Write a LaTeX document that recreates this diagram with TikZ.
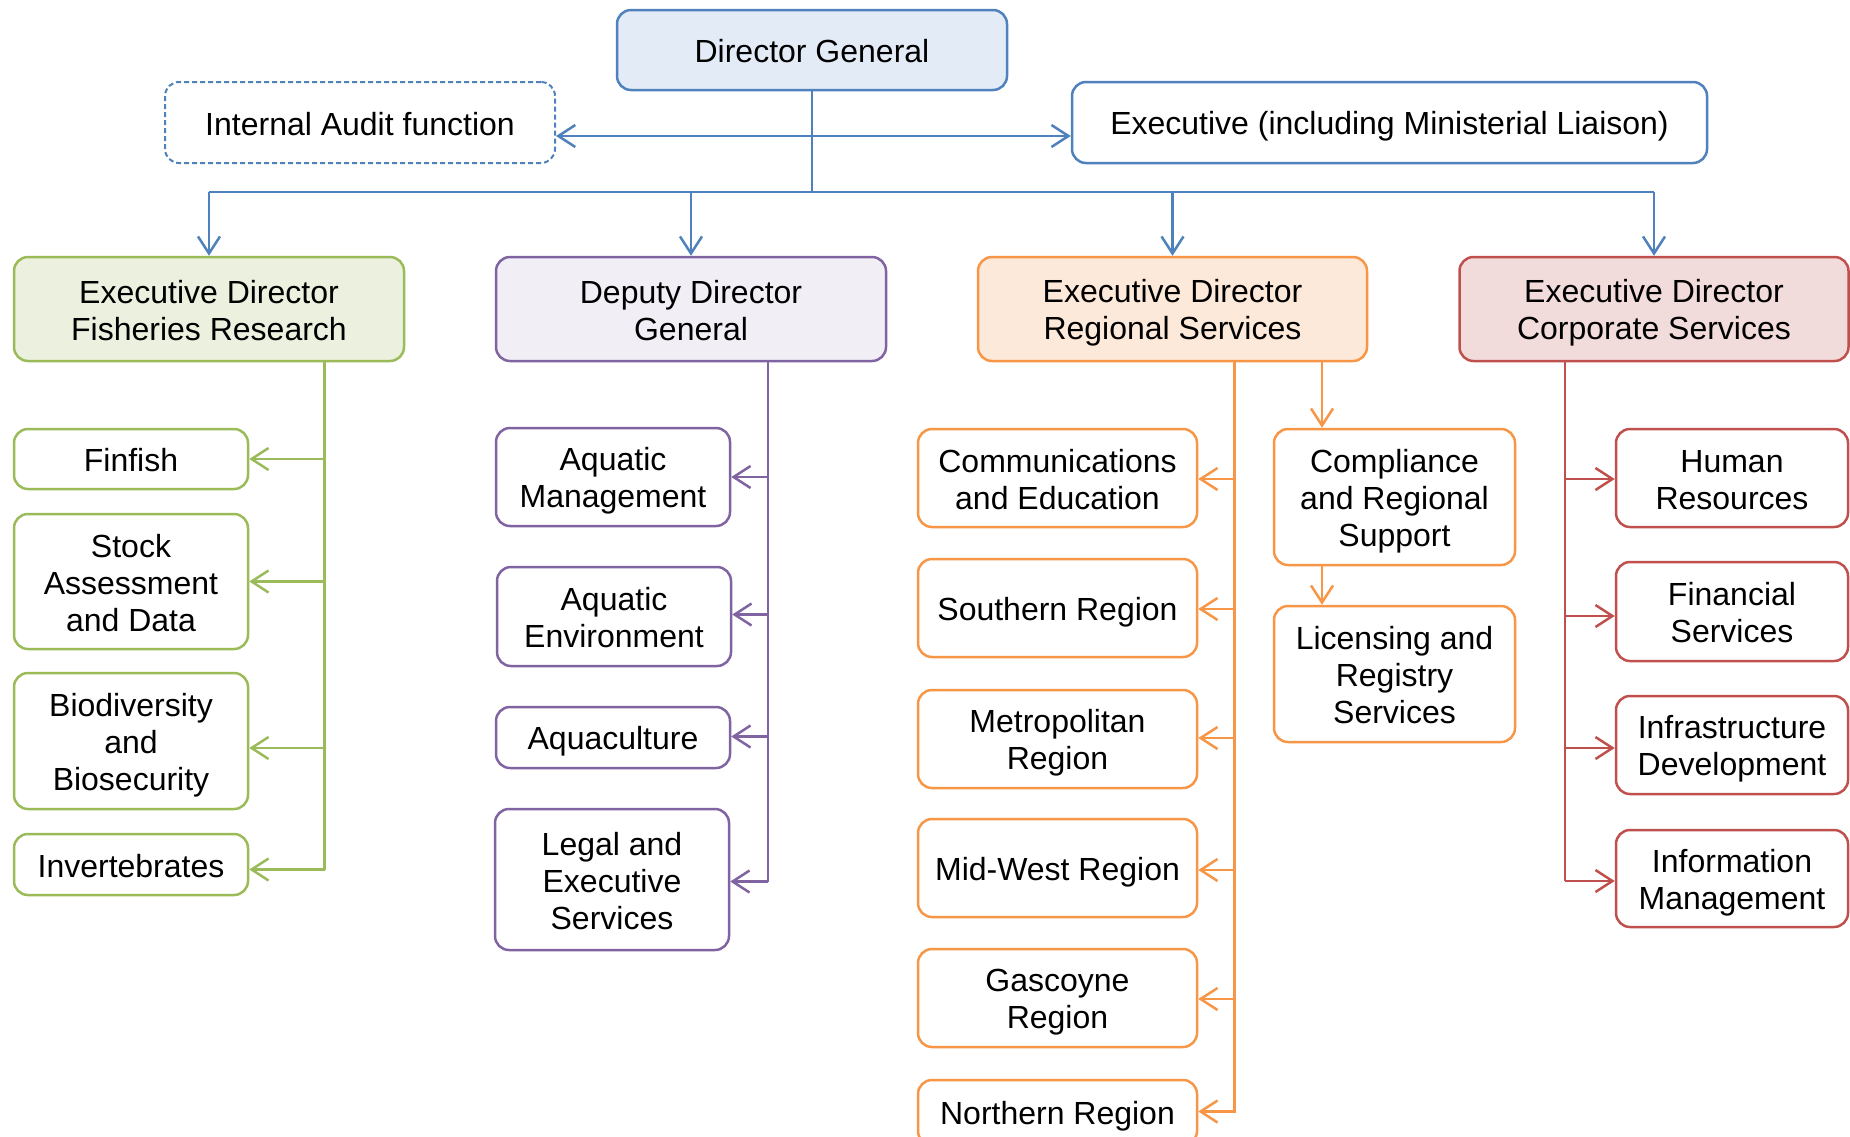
\documentclass[tikz,border=0pt]{standalone}
\usepackage{fontspec}
\setmainfont{Liberation Sans}
\usetikzlibrary{arrows.meta,calc}
\definecolor{bB}{HTML}{4F81BD}
\definecolor{bF}{HTML}{E3EBF6}
\definecolor{gB}{HTML}{9BBB59}
\definecolor{gF}{HTML}{EBF1DE}
\definecolor{pB}{HTML}{8064A2}
\definecolor{pF}{HTML}{F1EEF6}
\definecolor{oB}{HTML}{F79646}
\definecolor{oF}{HTML}{FDE9D9}
\definecolor{rB}{HTML}{C0504D}
\definecolor{rF}{HTML}{F2DCDB}
\newcommand{\bxs}{\rule{0pt}{31.5pt}}
\newcommand{\bxe}{\rule[-6.5pt]{0pt}{6.5pt}}
\begin{document}
\begin{tikzpicture}[x=1pt,y=-1pt,
  box/.style={rounded corners=14pt, line width=2.5pt, align=center, inner sep=0pt,
    font=\fontsize{32}{37}\selectfont, fill=white},
  bbox/.style={box, draw=bB},
  gbox/.style={box, draw=gB},
  pbox/.style={box, draw=pB},
  obox/.style={box, draw=oB},
  rbox/.style={box, draw=rB},
  conn/.style={line width=2.5pt, >={Straight Barb[length=17pt,width=22pt]}},
  bconn/.style={conn, draw=bB},
  gconn/.style={conn, draw=gB},
  pconn/.style={conn, draw=pB},
  oconn/.style={conn, draw=oB},
  rconn/.style={conn, draw=rB}]
\clip (0,0) rectangle (1850,1136);
\fill[white] (0,0) rectangle (1850,1136);

% top level
\node[bbox, fill=bF, minimum width=390, minimum height=80] (dg) at (812,50) {\bxs Director General\bxe};
\node[bbox, dash pattern=on 5pt off 3pt, line width=2pt, minimum width=390, minimum height=81] (audit) at (360,122.5) {\bxs Internal Audit function\bxe};
\node[bbox, minimum width=635, minimum height=81] (exec) at (1389.5,122.5) {\bxs Executive (including Ministerial Liaison)\bxe};

% level 2
\node[gbox, fill=gF, minimum width=390, minimum height=104] (fish) at (209,309) {\bxs Executive Director\\Fisheries Research\bxe};
\node[pbox, fill=pF, minimum width=390, minimum height=104] (ddg) at (691,309) {\bxs Deputy Director\\General\bxe};
\node[obox, fill=oF, minimum width=389, minimum height=104] (reg) at (1172.5,309) {\bxs Executive Director\\Regional Services\bxe};
\node[rbox, fill=rF, minimum width=389, minimum height=104] (corp) at (1654,309) {\bxs Executive Director\\Corporate Services\bxe};

% green column
\node[gbox, minimum width=234, minimum height=60] (finfish) at (131,459) {\bxs Finfish\bxe};
\node[gbox, minimum width=234, minimum height=135] (stock) at (131,581.5) {\bxs Stock\\Assessment\\and Data\bxe};
\node[gbox, minimum width=234, minimum height=136] (bio) at (131,741) {\bxs Biodiversity\\and\\Biosecurity\bxe};
\node[gbox, minimum width=234, minimum height=61] (inv) at (131,864.5) {\bxs Invertebrates\bxe};

% purple column
\node[pbox, minimum width=234, minimum height=98] (am) at (613,477) {\bxs Aquatic\\Management\bxe};
\node[pbox, minimum width=234, minimum height=99] (ae) at (614,616.5) {\bxs Aquatic\\Environment\bxe};
\node[pbox, minimum width=234, minimum height=61] (aq) at (613,737.5) {\bxs Aquaculture\bxe};
\node[pbox, minimum width=234, minimum height=141] (legal) at (612,879.5) {\bxs Legal and\\Executive\\Services\bxe};

% orange column
\node[obox, minimum width=279, minimum height=98] (comm) at (1057.5,478) {\bxs Communications\\and Education\bxe};
\node[obox, minimum width=279, minimum height=98] (south) at (1057.5,608) {\bxs Southern Region\bxe};
\node[obox, minimum width=279, minimum height=98] (metro) at (1057.5,739) {\bxs Metropolitan\\Region\bxe};
\node[obox, minimum width=279, minimum height=98] (mid) at (1057.5,868) {\bxs Mid-West Region\bxe};
\node[obox, minimum width=279, minimum height=98] (gasc) at (1057.5,998) {\bxs Gascoyne\\Region\bxe};
\node[obox, minimum width=279, minimum height=65] (north) at (1057.5,1112.5) {\bxs Northern Region\bxe};
\node[obox, minimum width=241, minimum height=136] (comp) at (1394.5,497) {\bxs Compliance\\and Regional\\Support\bxe};
\node[obox, minimum width=241, minimum height=136] (lic) at (1394.5,674) {\bxs Licensing and\\Registry\\Services\bxe};

% red column
\node[rbox, minimum width=232, minimum height=98] (hr) at (1732,478) {\bxs Human\\Resources\bxe};
\node[rbox, minimum width=232, minimum height=99] (fin) at (1732,611.5) {\bxs Financial\\Services\bxe};
\node[rbox, minimum width=232, minimum height=98] (infra) at (1732,745) {\bxs Infrastructure\\Development\bxe};
\node[rbox, minimum width=232, minimum height=97] (info) at (1732,878.5) {\bxs Information\\Management\bxe};

% top connectors
\coordinate (busy) at (0,192);
\coordinate (auy) at (0,136);
\draw[bconn] (dg.south) -- (dg.south |- busy);
\draw[bconn,->] (dg.south |- auy) -- (audit.east |- auy);
\draw[bconn,->] (dg.south |- auy) -- (exec.west |- auy);
\draw[bconn] (fish.north |- busy) -- (corp.north |- busy);
\foreach \n in {fish,ddg,reg,corp} \draw[bconn,->] (\n.north |- busy) -- (\n.north);

% green connectors
\coordinate (gx) at (324.5,0);
\coordinate (invy) at ($(inv.east)+(0,5)$);
\draw[gconn] (fish.south -| gx) -- (gx |- invy);
\foreach \n/\d in {finfish/0,stock/0,bio/7,inv/5} \draw[gconn,->] ($(gx |- \n.east)+(0,\d)$) -- ($(\n.east)+(0,\d)$);

% purple connectors
\coordinate (px) at (768,0);
\coordinate (legy) at ($(legal.east)+(0,2)$);
\draw[pconn] (ddg.south -| px) -- (px |- legy);
\foreach \n/\d in {am/0,ae/-2,aq/-1,legal/2} \draw[pconn,->] ($(px |- \n.east)+(0,\d)$) -- ($(\n.east)+(0,\d)$);

% orange connectors
\coordinate (ox) at (1234.5,0);
\draw[oconn] (reg.south -| ox) -- (ox |- north.east);
\foreach \n/\d in {comm/1,south/1,metro/-1,mid/2,gasc/1,north/-1} \draw[oconn,->] ($(ox |- \n.east)+(0,\d)$) -- ($(\n.east)+(0,\d)$);
\coordinate (ox2) at (1322,0);
\draw[oconn,->] (reg.south -| ox2) -- (comp.north -| ox2);
\draw[oconn,->] (comp.south -| ox2) -- (lic.north -| ox2);

% red connectors
\coordinate (rx) at (1565,0);
\coordinate (infoy) at ($(info.west)+(0,2.5)$);
\draw[rconn] (corp.south -| rx) -- (rx |- infoy);
\foreach \n/\d in {hr/1,fin/4.5,infra/3,info/2.5} \draw[rconn,->] ($(rx |- \n.west)+(0,\d)$) -- ($(\n.west)+(0,\d)$);
\end{tikzpicture}
\end{document}
